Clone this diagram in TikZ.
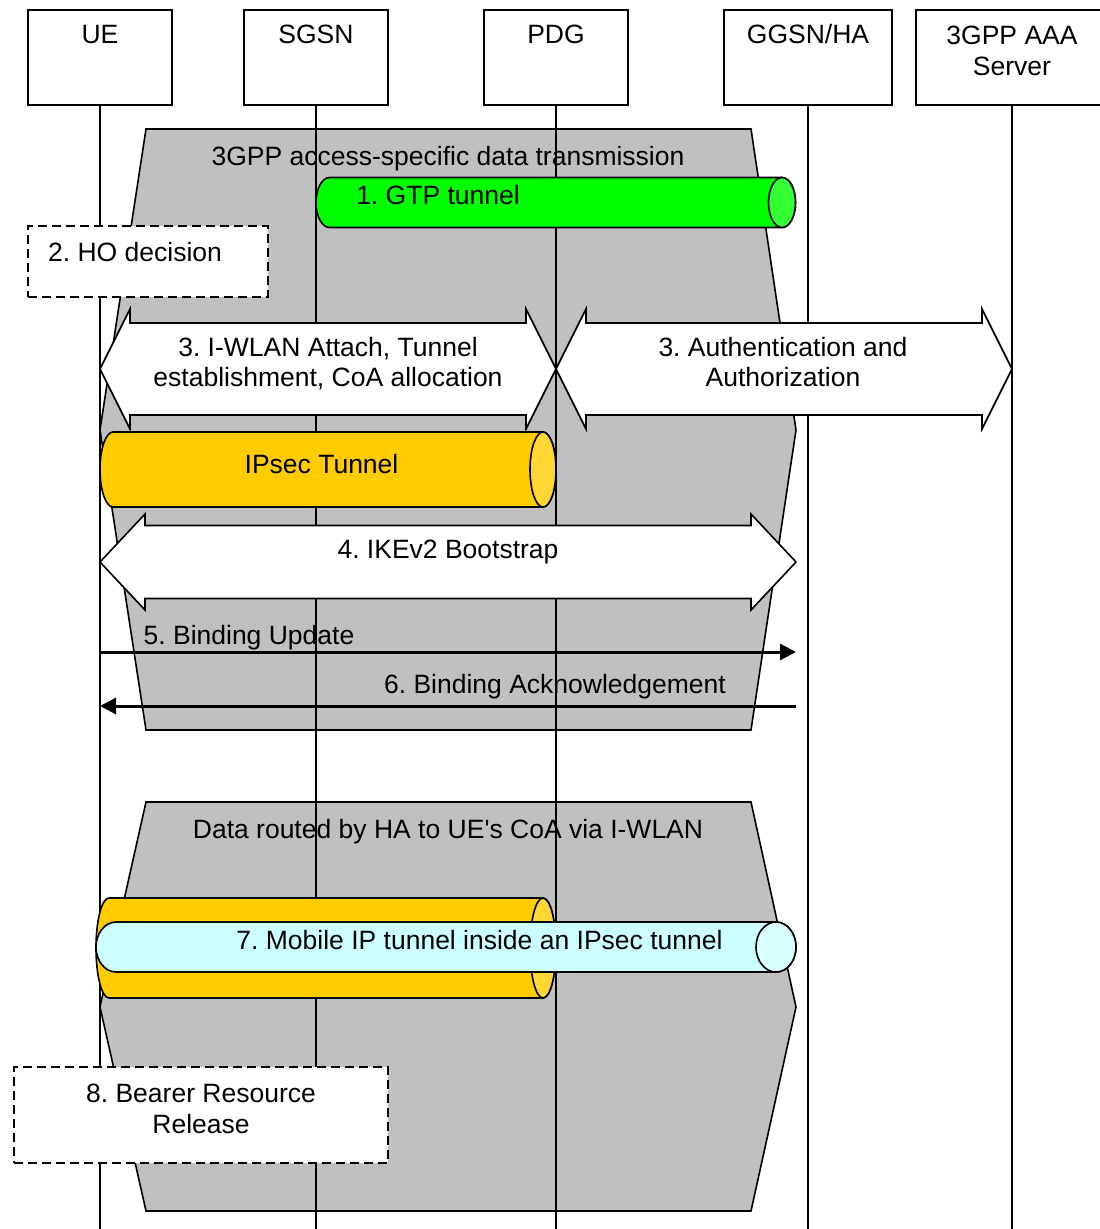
\documentclass[tikz,border=0pt]{standalone}
\usepackage{fontspec}
\setmainfont{Liberation Sans}
\usetikzlibrary{arrows.meta}
\frenchspacing
\definecolor{polygray}{HTML}{C0C0C0}
\definecolor{gtpbody}{HTML}{00FF00}
\definecolor{gtpface}{HTML}{33FF33}
\definecolor{ipbody}{HTML}{FFCC00}
\definecolor{ipface}{HTML}{FFD633}
\definecolor{mipbody}{HTML}{CCFFFF}
\definecolor{mipface}{HTML}{D9FFFF}
% tunnel: xl xr yc rx ry bodycolour facecolour
\newcommand\drawtunnel[7]{%
  \filldraw[fill=#6, line width=1.6pt] (#1,{#3-#5}) -- (#2,{#3-#5})
    arc[start angle=270,end angle=450,x radius=#4,y radius=#5]
    -- (#1,{#3+#5})
    arc[start angle=90,end angle=270,x radius=#4,y radius=#5] -- cycle;
  \filldraw[fill=#7, line width=1.6pt] (#2,#3) ellipse[x radius=#4, y radius=#5];
}
% double block arrow: x1 x2 yc headlength shafthalf headhalf
\newcommand\blockarrow[6]{%
  \filldraw[fill=white, line width=1.6pt] (#1,#3) -- ({#1+#4},{#3-#6}) -- ({#1+#4},{#3-#5})
    -- ({#2-#4},{#3-#5}) -- ({#2-#4},{#3-#6}) -- (#2,#3) -- ({#2-#4},{#3+#6})
    -- ({#2-#4},{#3+#5}) -- ({#1+#4},{#3+#5}) -- ({#1+#4},{#3+#6}) -- cycle;
}
\begin{document}
\begin{tikzpicture}[x=1pt, y=-1pt,
  font=\fontsize{26.5}{31}\selectfont,
  txt/.style={anchor=base, inner sep=0pt},
  hdr/.style={draw, line width=1.6pt, fill=white, minimum height=95pt, inner sep=0pt},
  dashbox/.style={draw, line width=1.6pt, fill=white, dash pattern=on 9pt off 5pt, inner sep=0pt},
  life/.style={line width=1.6pt},
  msg/.style={line width=3pt, -{Triangle[length=16pt,width=16pt]}},
  poly/.style={fill=polygray, line width=1.6pt}]
\useasboundingbox (0,0) rectangle (1100,1229);
\clip (0,0) rectangle (1100,1229);

% grey phases
\filldraw[poly] (146,129) -- (751,129) -- (796,430) -- (751,730) -- (146,730) -- (100,430) -- cycle;
\node[txt] (ph1) at (448,165) {3GPP access-specific data transmission};
\filldraw[poly] (146,802) -- (751,802) -- (796,1007) -- (751,1211) -- (146,1211) -- (100,1007) -- cycle;
\node[txt] (ph2) at (448,838) {Data routed by HA to UE\textquotesingle s CoA via I-WLAN};

% message labels
\node[txt] (l5) at (249,644) {5. Binding Update};
\node[txt] (l6) at (555,693) {6. Binding Acknowledgement};

% header boxes
\node[hdr, minimum width=144pt] (ue) at (100,57.5) {};
\node[hdr, minimum width=144pt] (sgsn) at (316,57.5) {};
\node[hdr, minimum width=144pt] (pdg) at (556,57.5) {};
\node[hdr, minimum width=168pt] (ggsn) at (808,57.5) {};
\node[hdr, minimum width=192pt] (aaa) at (1012,57.5) {};

% lifelines
\coordinate (ue-end) at (100,1229);
\coordinate (sgsn-end) at (316,1229);
\coordinate (pdg-end) at (556,1229);
\coordinate (ggsn-end) at (808,1229);
\coordinate (aaa-end) at (1012,1229);
\draw[life] (ue.south) -- (ue-end);
\draw[life] (sgsn.south) -- (sgsn-end);
\draw[life] (pdg.south) -- (pdg-end);
\draw[life] (ggsn.south) -- (ggsn-end);
\draw[life] (aaa.south) -- (aaa-end);

\node[txt] (ue-t) at (100,43) {UE};
\node[txt] (sgsn-t) at (316,43) {SGSN};
\node[txt] (pdg-t) at (556,43) {PDG};
\node[txt] (ggsn-t) at (808,43) {GGSN/HA};
\node[txt] (aaa-t1) at (1012,44) {3GPP AAA};
\node[txt] (aaa-t2) at (1012,75) {Server};

% 1. GTP tunnel
\drawtunnel{329.5}{782}{202.5}{13.5}{25}{gtpbody}{gtpface}
\node[txt] (gtp) at (438,204) {1. GTP tunnel};

% 2. HO decision
\node[dashbox, minimum width=240pt, minimum height=71pt] (ho) at (148,261.5) {};
\node[txt] (ho-t) at (135,261) {2. HO decision};

% 3. block arrows
\blockarrow{100}{556}{369}{30}{46}{60}
\node[txt] (att1) at (328,356) {3. I-WLAN Attach, Tunnel};
\node[txt] (att2) at (328,386) {establishment, CoA allocation};
\blockarrow{556}{1012}{369}{30}{46}{60}
\node[txt] (auth1) at (783,356) {3. Authentication and};
\node[txt] (auth2) at (783,386) {Authorization};

% IPsec tunnel
\drawtunnel{113}{543}{469.5}{13}{37.5}{ipbody}{ipface}
\node[txt] (ipsec) at (321.5,473) {IPsec Tunnel};

% 4. IKEv2
\blockarrow{100}{796}{562}{45}{36.5}{48}
\node[txt] (ike) at (448,558) {4. IKEv2 Bootstrap};

% 5./6. binding messages
\coordinate (bu-s) at (100,652);
\coordinate (bu-e) at (796,652);
\coordinate (ba-s) at (796,706);
\coordinate (ba-e) at (100,706);
\draw[msg] (bu-s) -- (bu-e);
\draw[msg] (ba-s) -- (ba-e);

% 7. tunnels
\drawtunnel{109}{543}{948}{13}{50}{ipbody}{ipface}
\drawtunnel{116}{776}{947}{20}{25}{mipbody}{mipface}
\node[txt] (mip) at (479.5,949) {7. Mobile IP tunnel inside an IPsec tunnel};

% 8. Bearer resource release
\node[dashbox, minimum width=374pt, minimum height=96pt] (brr) at (201,1115) {};
\node[txt] (brr1) at (201,1102) {8. Bearer Resource};
\node[txt] (brr2) at (201,1133) {Release};
\end{tikzpicture}
\end{document}
